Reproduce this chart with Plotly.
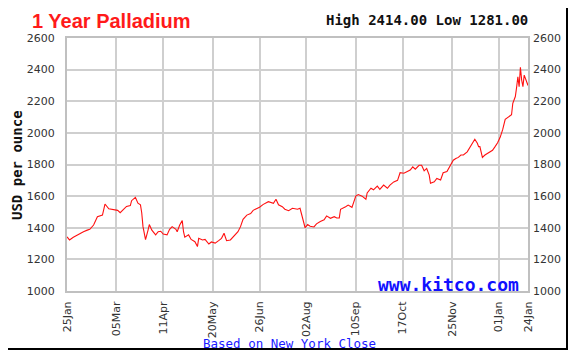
import pandas as pd
import plotly.graph_objects as go

# ---- data ----
start_date = "2019-01-25"
day_offset = [0, 2, 5, 9, 13, 16, 18, 21, 24, 28, 30, 33, 37, 40, 42, 45, 47, 50, 51, 54,
              56, 58, 59, 60, 62, 64, 65, 67, 70, 72, 74, 76, 79, 81, 83, 86, 87, 89, 91, 92,
              93, 96, 98, 101, 103, 104, 107, 109, 112, 114, 117, 120, 122, 124, 126, 129, 131, 135, 137, 139,
              142, 145, 147, 150, 152, 155, 159, 163, 165, 167, 170, 172, 175, 178, 182, 184, 185, 187, 188, 190,
              192, 195, 197, 200, 203, 205, 208, 211, 213, 215, 216, 220, 222, 225, 228, 230, 233, 236, 237, 240,
              242, 245, 247, 250, 253, 255, 258, 261, 263, 266, 268, 271, 273, 275, 278, 280, 282, 284, 286, 287,
              290, 292, 295, 297, 300, 303, 305, 307, 309, 311, 313, 316, 318, 320, 322, 324, 325, 326, 328, 330,
              333, 336, 338, 340, 342, 344, 346, 349, 351, 352, 354, 355, 356, 357, 358, 359, 360, 361, 362, 363, 364]
price = [1343, 1323, 1340, 1360, 1375, 1385, 1390, 1417, 1470, 1480, 1550, 1520, 1515, 1510, 1495, 1520, 1535, 1540, 1571, 1592,
         1555, 1545, 1495, 1407, 1325, 1385, 1420, 1385, 1355, 1375, 1378, 1360, 1355, 1390, 1407, 1390, 1375, 1417, 1445, 1375,
         1340, 1355, 1326, 1312, 1281, 1333, 1323, 1326, 1297, 1310, 1303, 1320, 1333, 1365, 1318, 1323, 1340, 1375, 1407, 1453,
         1480, 1490, 1510, 1520, 1530, 1548, 1565, 1555, 1580, 1545, 1533, 1517, 1508, 1523, 1517, 1523, 1490, 1440, 1400, 1420,
         1410, 1405, 1425, 1440, 1450, 1475, 1460, 1470, 1462, 1462, 1517, 1533, 1543, 1529, 1600, 1610, 1600, 1580, 1620, 1650,
         1640, 1663, 1643, 1670, 1650, 1670, 1690, 1700, 1748, 1745, 1755, 1765, 1785, 1770, 1795, 1795, 1760, 1775, 1733, 1681,
         1691, 1712, 1702, 1748, 1755, 1795, 1827, 1838, 1845, 1860, 1860, 1880, 1907, 1934, 1960, 1934, 1913, 1913, 1845, 1860,
         1874, 1890, 1913, 1938, 1972, 2020, 2086, 2105, 2115, 2187, 2230, 2288, 2355, 2292, 2414, 2334, 2292, 2365, 2344, 2313, 2300]
tick_dates = ["2019-01-25", "2019-03-05", "2019-04-11", "2019-05-20", "2019-06-26", "2019-08-02",
              "2019-09-10", "2019-10-17", "2019-11-25", "2020-01-01", "2020-01-24"]
tick_labels = ["25Jan", "05Mar", "11Apr", "20May", "26Jun", "02Aug", "10Sep", "17Oct", "25Nov", "01Jan", "24Jan"]
y_ticks = [1000, 1200, 1400, 1600, 1800, 2000, 2200, 2400, 2600]
high_val = 2414.00
low_val = 1281.00

dates = pd.to_datetime(start_date) + pd.to_timedelta(day_offset, unit="D")

# ---- layout geometry (page has an 8px body margin) ----
O = 8
W, H = 576 - O, 363 - O
L, R, T, B = 67, 528, 38, 291          # target page pixels
pw, ph = R - L, B - T
fx = lambda px: (px - L) / pw
fy = lambda py: (B - py) / ph

fig = go.Figure()
fig.add_trace(go.Scatter(x=dates, y=price, mode="lines",
                         line=dict(color="#ff1010", width=1.1), hoverinfo="x+y", showlegend=False))
fig.add_trace(go.Scatter(x=dates, y=price, mode="lines", yaxis="y2",
                         line=dict(color="rgba(0,0,0,0)", width=0), hoverinfo="skip", showlegend=False))

tickfont = dict(family="DejaVu Sans", size=11, color="#333333")
grid = "#cfcfcf"

fig.update_layout(
    width=W, height=H,
    margin=dict(l=L - O, r=576 - R, t=T - O, b=363 - B, autoexpand=False),
    paper_bgcolor="white", plot_bgcolor="white",
    xaxis=dict(type="date", range=[tick_dates[0], tick_dates[-1]],
               tickvals=tick_dates, ticktext=tick_labels, tickangle=-90,
               tickfont=tickfont, showgrid=True, gridcolor=grid, gridwidth=1.5,
               showline=True, linecolor="#c0c0c0", linewidth=2, mirror=True,
               ticks="", ticklabelstandoff=4, zeroline=False, fixedrange=True),
    yaxis=dict(range=[y_ticks[0], y_ticks[-1]], tickvals=y_ticks,
               tickfont=tickfont, showgrid=True, gridcolor=grid, gridwidth=1.5,
               showline=True, linecolor="#c0c0c0", linewidth=2, mirror=True,
               ticks="", ticklabelstandoff=8, zeroline=False),
    yaxis2=dict(range=[y_ticks[0], y_ticks[-1]], tickvals=y_ticks, overlaying="y", side="right",
                tickfont=tickfont, showgrid=False, ticks="", ticklabelstandoff=4,
                showline=False, zeroline=False),
    annotations=[
        dict(text="<b>1 Year Palladium</b>", xref="paper", yref="paper", x=fx(30), y=fy(21),
             xanchor="left", yanchor="middle", showarrow=False,
             font=dict(family="Liberation Sans", size=20, color="#ff1a1a")),
        dict(text=f"<b>High {high_val:.2f} Low {low_val:.2f}</b>", xref="paper", yref="paper",
             x=fx(530), y=fy(20), xanchor="right", yanchor="middle", showarrow=False,
             font=dict(family="DejaVu Sans Mono", size=14, color="#111111")),
        dict(text="<b>www.kitco.com</b>", xref="paper", yref="paper", x=fx(521), y=fy(284),
             xanchor="right", yanchor="middle", showarrow=False,
             font=dict(family="DejaVu Sans Mono", size=18, color="#1010ff")),
        dict(text="Based on New York Close", xref="paper", yref="paper", x=fx(289), y=fy(343),
             xanchor="center", yanchor="middle", showarrow=False,
             font=dict(family="DejaVu Sans Mono", size=12.5, color="#1a1aff")),
        dict(text="<b>USD per ounce</b>", xref="paper", yref="paper", x=fx(17), y=fy(165),
             xanchor="center", yanchor="middle", showarrow=False, textangle=-90,
             font=dict(family="DejaVu Sans Mono", size=14, color="#111111")),
    ],
    shapes=[
        dict(type="rect", xref="paper", yref="paper", x0=fx(6), x1=fx(567), y0=fy(349), y1=fy(7),
             line=dict(color="black", width=2), fillcolor="rgba(0,0,0,0)", layer="below"),
    ],
)

fig.write_html("out.html")
